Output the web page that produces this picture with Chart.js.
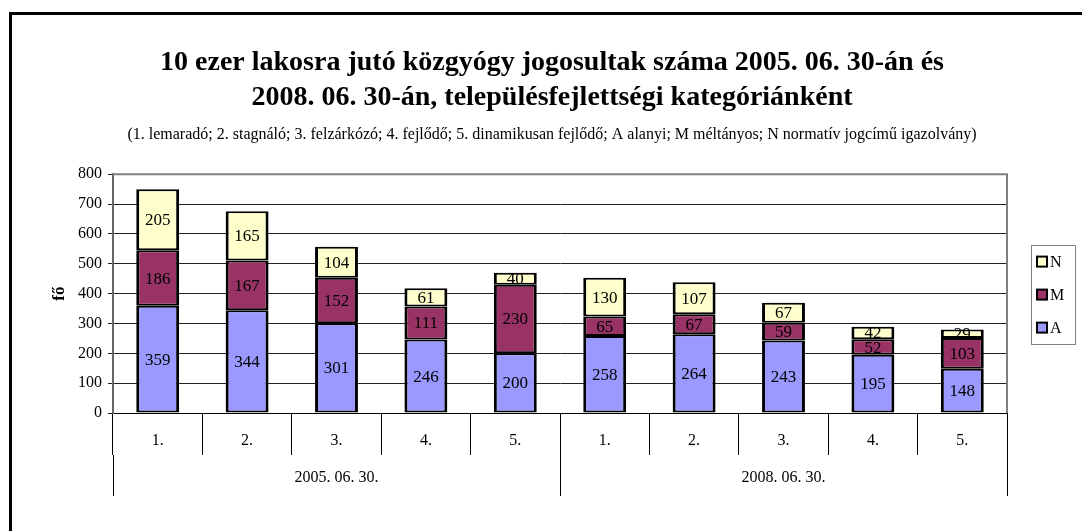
<!DOCTYPE html>
<html>
<head>
<meta charset="utf-8">
<script src="https://cdn.jsdelivr.net/npm/chart.js@4/dist/chart.umd.min.js"></script>
<style>
  html, body { margin: 0; padding: 0; background: #fff; }
  #wrap { position: relative; width: 1082px; height: 531px; }
</style>
</head>
<body>
<div id="wrap"><canvas id="chart" width="1082" height="531"></canvas></div>
<script>
	// data
	var categories = ["1.", "2.", "3.", "4.", "5.", "1.", "2.", "3.", "4.", "5."],
		groups = ["2005. 06. 30.", "2008. 06. 30."],
		seriesA = [359, 344, 301, 246, 200, 258, 264, 243, 195, 148],
		seriesM = [186, 167, 152, 111, 230, 65, 67, 59, 52, 103],
		seriesN = [205, 165, 104, 61, 40, 130, 107, 67, 42, 29],
		yTicks = [0, 100, 200, 300, 400, 500, 600, 700, 800];

	var SERIF = "'Liberation Serif', 'Times New Roman', serif";

	function fixWidth(w) {
		return function (scale) { scale.width = w; };
	}
	function fixHeight(h) {
		return function (scale) { scale.height = h; };
	}

	var frame = {
		id: "frame",
		beforeDraw: function (chart) {
			var ctx = chart.ctx;
			ctx.save();
			ctx.fillStyle = "#fff";
			ctx.fillRect(0, 0, chart.width, chart.height);
			ctx.strokeStyle = "#000";
			ctx.lineWidth = 3;
			ctx.strokeRect(10.5, 13.5, chart.width + 20, chart.height + 20);
			ctx.restore();
		},
		afterDraw: function (chart) {
			var ctx = chart.ctx, a = chart.chartArea;
			ctx.save();
			// grey plot border, top and right
			ctx.strokeStyle = "#808080";
			ctx.lineWidth = 2;
			ctx.beginPath();
			ctx.moveTo(a.left, a.top);
			ctx.lineTo(a.right, a.top);
			ctx.lineTo(a.right, a.bottom);
			ctx.stroke();

			// legend, boxed, to the right of the plot
			var items = chart.data.datasets.slice().reverse(),
				boxL = a.right + 24, boxW = 44, rowH = 33,
				boxH = rowH * items.length,
				midY = (a.top + a.bottom) / 2 + 1,
				boxT = midY - boxH / 2;
			ctx.strokeStyle = "#808080";
			ctx.lineWidth = 1;
			ctx.strokeRect(boxL + 0.5, Math.round(boxT) + 0.5, boxW, boxH);
			ctx.font = "16px " + SERIF;
			ctx.textBaseline = "middle";
			ctx.textAlign = "left";
			items.forEach(function (ds, i) {
				var cy = boxT + rowH * i + rowH / 2;
				ctx.fillStyle = ds.backgroundColor;
				ctx.fillRect(boxL + 6, cy - 5, 10, 10);
				ctx.strokeStyle = "#000";
				ctx.lineWidth = 2;
				ctx.strokeRect(boxL + 6, cy - 5, 10, 10);
				ctx.fillStyle = "#000";
				ctx.fillText(ds.label, boxL + 19, cy + 1);
			});
			ctx.restore();
		}
	};

	var valueLabels = {
		id: "valueLabels",
		afterDatasetsDraw: function (chart) {
			var ctx = chart.ctx;
			ctx.save();
			ctx.font = "17px " + SERIF;
			ctx.fillStyle = "#000";
			ctx.textAlign = "center";
			ctx.textBaseline = "middle";
			chart.data.datasets.forEach(function (ds, di) {
				chart.getDatasetMeta(di).data.forEach(function (bar, i) {
					ctx.fillText(String(ds.data[i]), bar.x, (bar.y + bar.base) / 2 + 1);
				});
			});
			ctx.restore();
		}
	};

	function bars(label, data, color) {
		return {
			label: label,
			data: data,
			backgroundColor: color,
			borderColor: "#000",
			borderWidth: {left: 3, right: 3, top: 2, bottom: 2},
			borderSkipped: false,
			barPercentage: 0.48,
			categoryPercentage: 1,
			xAxisID: "x",
			yAxisID: "y"
		};
	}

	new Chart(document.getElementById("chart"), {
		type: "bar",
		data: {
			labels: categories,
			datasets: [
				bars("A", seriesA, "#9999FF"),
				bars("M", seriesM, "#993366"),
				bars("N", seriesN, "#FFFFCC")
			]
		},
		options: {
			responsive: false,
			animation: false,
			events: [],
			layout: {padding: {left: 22, right: 0, top: 13, bottom: 35}},
			plugins: {
				legend: {display: false},
				tooltip: {enabled: false},
				title: {
					display: true,
					text: [
						"10 ezer lakosra jutó közgyógy jogosultak száma 2005. 06. 30-án és",
						"2008. 06. 30-án, településfejlettségi kategóriánként"
					],
					color: "#000",
					font: {family: SERIF, size: 28, weight: "bold", lineHeight: 1.25},
					padding: {top: 32, bottom: 10}
				},
				subtitle: {
					display: true,
					text: "(1. lemaradó; 2. stagnáló; 3. felzárkózó; 4. fejlődő; 5. dinamikusan fejlődő; A alanyi; M méltányos; N normatív jogcímű igazolvány)",
					color: "#000",
					font: {family: SERIF, size: 16, lineHeight: 1.2},
					padding: {top: 0, bottom: 30}
				}
			},
			scales: {
				x: {
					type: "category",
					stacked: true,
					position: "bottom",
					weight: 0,
					afterFit: fixHeight(42),
					border: {display: true, color: "#000", width: 1},
					grid: {offset: true, drawOnChartArea: false, tickLength: 42, color: "#000", lineWidth: 1},
					ticks: {color: "#000", font: {family: SERIF, size: 16}, padding: -24, maxRotation: 0}
				},
				x2: {
					type: "category",
					labels: groups,
					position: "bottom",
					offset: true,
					weight: 1,
					afterFit: fixHeight(41),
					border: {display: false},
					grid: {offset: true, drawOnChartArea: false, tickLength: 41, color: "#000", lineWidth: 1},
					ticks: {color: "#000", font: {family: SERIF, size: 16}, padding: -28, maxRotation: 0}
				},
				y: {
					stacked: true,
					position: "left",
					min: 0,
					max: yTicks[yTicks.length - 1],
					afterFit: fixWidth(91),
					afterBuildTicks: function (scale) {
						scale.ticks = yTicks.map(function (v) { return {value: v}; });
					},
					border: {display: true, color: "#666", width: 2},
					grid: {color: "#222", lineWidth: 1, tickLength: 5},
					ticks: {color: "#000", font: {family: SERIF, size: 16}, padding: 6},
					title: {
						display: true,
						text: "fő",
						color: "#000",
						font: {family: SERIF, size: 17, weight: "bold"},
						padding: {top: 27, bottom: 0}
					}
				},
				yGhost: {
					type: "linear",
					position: "right",
					afterFit: fixWidth(75),
					border: {display: false},
					grid: {display: false},
					ticks: {display: false}
				}
			}
		},
		plugins: [frame, valueLabels]
	});
</script>
</body>
</html>
